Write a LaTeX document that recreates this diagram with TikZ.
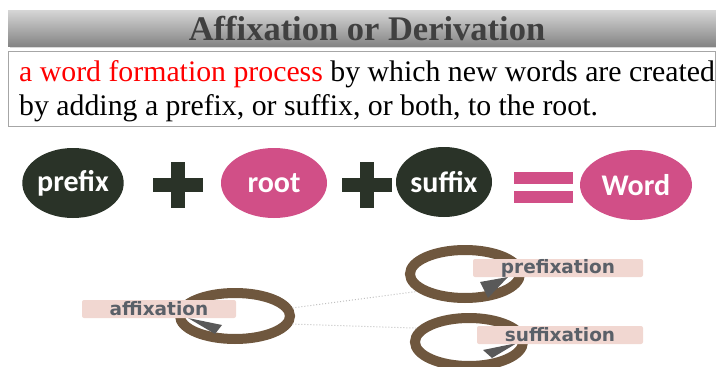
\documentclass[tikz,border=0pt]{standalone}
\usepackage{fontspec}
\setmainfont{Liberation Serif}
\newfontfamily\calfont{Carlito}
\newfontfamily\labfont{DejaVu Sans}
\usetikzlibrary{shapes.geometric, positioning, calc}
\definecolor{darkleaf}{HTML}{2A3328}
\definecolor{rosepink}{HTML}{D14F87}
\definecolor{ringbrown}{HTML}{6F573E}
\definecolor{labelpink}{HTML}{F1D7D1}
\definecolor{labelgray}{HTML}{5A6068}
\definecolor{titlegray}{HTML}{404040}

\tikzset{
    part/.style={ellipse, inner sep=0pt, minimum height=70pt, text=white,
        font=\calfont\bfseries\fontsize{30}{32}\selectfont},
    ring/.style={ellipse, draw=ringbrown, line width=10pt, inner sep=0pt},
    tag/.style={fill=labelpink, rounded corners=2pt, inner sep=0pt, minimum height=18pt,
        text=labelgray, font=\labfont\bfseries\fontsize{18.5}{20}\selectfont},
    tip/.style={fill=black!65},
    sign/.style={fill=darkleaf},
    link/.style={draw=black!25, dotted, line width=1pt},
}

\begin{document}
\begin{tikzpicture}[x=1pt, y=-1pt]
\useasboundingbox (0,0) rectangle (716,367);

% title bar
\fill[black!15] (10,12) rectangle (718,48);
\shade[top color=black!16, bottom color=black!48] (8,10) rectangle (716,46);
\node[anchor=base, text=titlegray, font=\bfseries\fontsize{34.5}{36}\selectfont] (title) at (367,40) {Affixation or Derivation};

% definition
\draw[black!35, line width=1pt, fill=white] (8,51) rectangle (715,126);
\node[anchor=base west, align=left, inner sep=0pt, font=\fontsize{29.8}{34}\selectfont] (defn) at (19,115)
    {\textcolor{red}{a word formation process} by which new words are created\\by adding a prefix, or suffix, or both, to the root.};

% equation row
\node[part, fill=darkleaf, minimum width=97pt] (prefix) at (73,183) {prefix};
\node[part, fill=rosepink, minimum width=106pt] (root) at (274,183) {root};
\node[part, fill=darkleaf, minimum width=96pt] (suffix) at (444,182) {suffix};
\node[part, fill=rosepink, minimum width=112pt] (word) at (636,185) {Word};

\coordinate (plusa) at (178,185);
\coordinate (plusb) at (367,185);
\foreach \p in {plusa, plusb} {
    \fill[sign] ($(\p)+(-25,-7)$) rectangle ($(\p)+(25,7)$);
    \fill[sign] ($(\p)+(-7,-23)$) rectangle ($(\p)+(7,23)$);
}
\fill[rosepink] (514,172) rectangle (573,184);
\fill[rosepink] (514,191) rectangle (573,203);

% affixation tree
\node[ring, minimum width=110pt, minimum height=46pt] (affix) at (235,316) {};
\node[ring, minimum width=110pt, minimum height=48pt] (prefring) at (465,274) {};
\node[ring, minimum width=108pt, minimum height=48pt] (suffring) at (469,342) {};

\draw[link] (affix.8) -- (prefring.200);
\draw[link] (affix.-8) -- (suffring.165);

\fill[tip] (188,318) -- (222,325) -- (215,334) -- cycle;
\fill[tip] (480,282) -- (508,277) -- (488,298) -- cycle;
\fill[tip] (483,350) -- (517,343) -- (492,358) -- cycle;

\node[tag, minimum width=154pt] (affixation) at (159,309) {affixation};
\node[tag, minimum width=170pt] (prefixation) at (558,268) {prefixation};
\node[tag, minimum width=166pt] (suffixation) at (560,335) {suffixation};
\end{tikzpicture}
\end{document}
